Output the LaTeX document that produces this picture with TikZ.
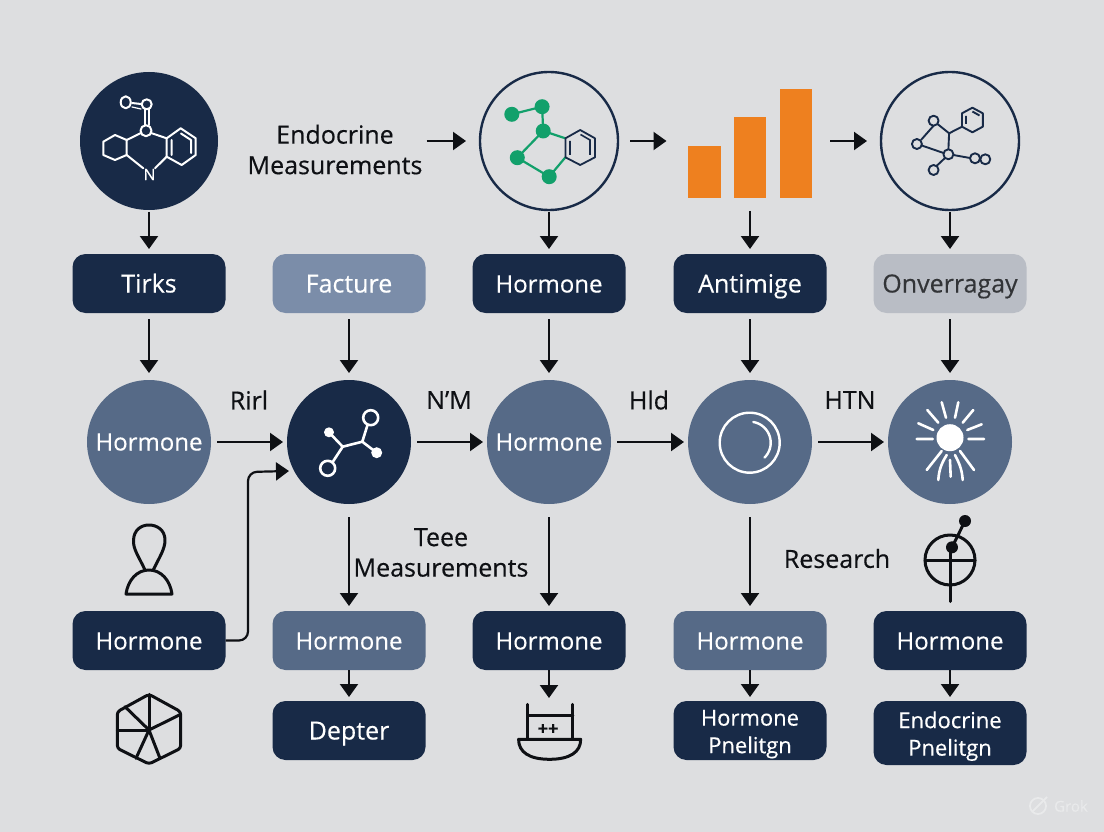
\documentclass[tikz,border=0pt]{standalone}
\usepackage{fontspec}
\setmainfont[FakeBold=0.35]{Open Sans}
\usetikzlibrary{arrows.meta,calc}
\definecolor{bg}{HTML}{DDDEE0}
\definecolor{navy}{HTML}{182A47}
\definecolor{slate}{HTML}{566A87}
\definecolor{mist}{HTML}{7B8DA9}
\definecolor{fog}{HTML}{B9BDC5}
\definecolor{ink}{HTML}{0E1014}
\definecolor{leaf}{HTML}{12A06B}
\definecolor{amber}{HTML}{EE801F}
\definecolor{wm}{HTML}{E9EAEB}
\tikzset{
  pill/.style={rounded corners=13pt,minimum width=153pt,minimum height=59pt,inner sep=0pt,outer sep=0pt,align=center,text=white,font=\fontsize{25}{31}\selectfont},
  oneline/.style={text height=23pt,text depth=5pt},
  horm/.style={font=\fontsize{24}{31}\selectfont},
  navybox/.style={pill,fill=navy},
  slatebox/.style={pill,fill=slate},
  twoline/.style={navybox,font=\fontsize{22}{27.5}\selectfont},
  disc/.style={circle,minimum size=124pt,inner sep=0pt,outer sep=0pt,text=white,font=\fontsize{24}{28}\selectfont,text height=22pt,text depth=5pt},
  bigdisc/.style={circle,minimum size=138pt,inner sep=0pt,outer sep=0pt},
  lab/.style={text=ink,align=center,inner sep=0pt,font=\fontsize{25}{30.5}\selectfont},
  bar/.style={fill=amber,inner sep=0pt,outer sep=0pt},
  arr/.style={draw=ink,line width=2.2pt,-{Triangle[length=13pt,width=18pt]}},
  glyph/.style={draw=ink,line width=3pt,line join=round,line cap=round},
  wline/.style={draw=white,line width=2pt,line join=round,line cap=round},
}
\begin{document}
\begin{tikzpicture}[x=1pt,y=-1pt]
\fill[bg] (0,0) rectangle (1104,832);
\useasboundingbox (0,0) rectangle (1104,832);

% top row
\node[bigdisc,fill=navy] (t1) at (149,141) {};
\node[lab] (endo) at (335,149.5) {Endocrine\\Measurements};
\node[bigdisc,draw=navy,line width=2.4pt] (t2) at (549,141) {};
\node[bar,minimum width=33pt,minimum height=52pt] (bar1) at (704,172) {};
\node[bar,minimum width=32pt,minimum height=81pt] (bar2) at (750,157.5) {};
\node[bar,minimum width=32pt,minimum height=109pt] (bar3) at (796,143.5) {};
\node[bigdisc,draw=navy,line width=2.4pt] (t4) at (950,141) {};

% first box row
\node[navybox,oneline] (a1) at (149,283.5) {Tirks};
\node[pill,oneline,fill=mist] (a2) at (349,283.5) {Facture};
\node[navybox,oneline,horm] (a3) at (549,283.5) {Hormone};
\node[navybox,oneline] (a4) at (750,283.5) {Antimige};
\node[pill,oneline,fill=fog,text=ink!85] (a5) at (950,283.5) {Onverragay};

% discs
\node[disc,fill=slate] (c1) at (149,442) {Hormone};
\node[disc,fill=navy] (c2) at (349,442) {};
\node[disc,fill=slate] (c3) at (549,442) {Hormone};
\node[disc,fill=slate] (c4) at (750,442) {};
\node[disc,fill=slate] (c5) at (950,442) {};

% labels
\node[lab] (l1) at (249,400) {Rirl};
\node[lab] (l2) at (449,400) {N'M};
\node[lab] (l3) at (649,400) {Hld};
\node[lab] (l4) at (850,400) {HTN};
\node[lab] (l5) at (441,552.5) {Teee\\Measurements};
\node[lab] (l6) at (837,558.5) {Research};

% second box row
\node[navybox,oneline,horm] (b1) at (149,640.5) {Hormone};
\node[slatebox,oneline,horm] (b2) at (349,640.5) {Hormone};
\node[navybox,oneline,horm] (b3) at (549,640.5) {Hormone};
\node[slatebox,oneline,horm] (b4) at (750,640.5) {Hormone};
\node[navybox,oneline,horm] (b5) at (950,640.5) {Hormone};

% third row
\node[navybox,oneline] (d2) at (349,730.5) {Depter};
\coordinate (d3) at (549,702);
\node[twoline] (d4) at (750,730.5) {\rule{0pt}{23pt}Hormone\\Pnelitgn};
\node[twoline,minimum height=64pt] (d5) at (950,733) {\rule{0pt}{23pt}Endocrine\\Pnelitgn};

% connectors
\draw[arr,shorten <=4pt,shorten >=14pt] (endo.east |- t2.west) -- (t2.west);
\draw[arr,shorten <=12pt,shorten >=21pt] (t2.east) -- (bar1.west |- t2.east);
\draw[arr,shorten <=18pt,shorten >=14pt] (bar3.east |- t4.west) -- (t4.west);
\draw[arr,shorten <=2pt,shorten >=5pt] (t1.south) -- (a1.north);
\draw[arr,shorten <=2pt,shorten >=5pt] (t2.south) -- (a3.north);
\draw[arr,shorten <=13pt,shorten >=5pt] (bar2.south) -- (a4.north);
\draw[arr,shorten <=2pt,shorten >=5pt] (t4.south) -- (a5.north);
\foreach \i/\j in {a1/c1,a2/c2,a3/c3,a4/c4,a5/c5}
  \draw[arr,shorten <=6pt,shorten >=7pt] (\i.south) -- (\j.north);
\foreach \i/\j in {c1/c2,c2/c3,c3/c4,c4/c5}
  \draw[arr,shorten <=6pt,shorten >=4pt] (\i.east) -- (\j.west);
\foreach \i/\j in {c2/b2,c3/b3,c4/b4}
  \draw[arr,shorten <=13pt,shorten >=5pt] (\i.south) -- (\j.north);
\foreach \i/\j in {b2/d2,b3/d3,b4/d4,b5/d5}
  \draw[arr,shorten >=4pt] (\i.south) -- (\j.north);
\coordinate (hook) at (248,472);
\coordinate (hookend) at (289,471);
\draw[draw=ink,line width=2.2pt,rounded corners=9pt,-{Triangle[length=13pt,width=18pt]}] (b1.east) -- (hook |- b1.east) -- (hook) -- (hookend);

% molecule on t1
\begin{scope}[wline]
\draw (103.3,141.7) -- (115,135) -- (126.7,140) -- (126.7,155) -- (115,160) -- (103.3,155) -- cycle;
\draw (166.7,138.3) -- (180.7,128.3) -- (195.7,138.3) -- (195.7,155) -- (181.7,165) -- (166.7,156.7) -- cycle;
\draw (171.5,140) -- (171.5,155) (181,133.5) -- (191,140) (191,140) -- (191,153);
\draw (126.7,140) -- (141,133) (151,133) -- (166.7,138.3);
\draw (126.7,155) -- (143.3,168.3) (155,168.3) -- (166.7,156.7);
\draw (146,130.7) circle[radius=5.5pt];
\draw (146.7,104.3) circle[radius=5pt];
\draw (125.7,102.3) circle[x radius=5pt,y radius=6pt];
\draw (144.5,109) -- (144.5,125) (149,109) -- (149,125);
\draw[line width=1.2pt] (132,107) -- (141,109);
\draw (132,103) -- (141,104);
\end{scope}
\node[text=white,inner sep=0pt,font=\fontsize{16}{16}\selectfont] (atomN) at (149.5,174.5) {N};

% green molecule on t2
\begin{scope}[draw=leaf,line width=2.2pt]
\draw (511.8,114.3) -- (542.1,106.7) -- (543.2,131) -- (517.3,157.7) -- (549.2,176.7) -- (565.4,157.3);
\draw (543.2,131) -- (565.4,138.3);
\end{scope}
\foreach \p in {(511.8,114.3),(542.1,106.7),(543.2,131),(517.3,157.7),(549.2,176.7)}
  \fill[leaf] \p circle[radius=7.5pt];
\draw[draw=navy,line width=1.8pt,line join=round] (565.4,138.3) -- (580.2,130) -- (595,138.3) -- (595,157.3) -- (580.2,165) -- (565.4,157.3) -- cycle;
\draw[draw=navy,line width=1.6pt] (570,141) -- (570,155) (580.5,134.5) -- (590,140) -- (590,155);

% molecule on t4
\begin{scope}[draw=navy,line width=1.9pt,line join=round]
\draw (933.6,125.7) -- (921,140);
\draw (937.5,124) -- (949.1,133.3) -- (948.4,149.5);
\draw (921.8,145.5) -- (943.5,153);
\draw (953.3,155) -- (970,158);
\draw (945,158) -- (936.5,166);
\draw (949.1,133.3) -- (962,126.7);
\draw (972.4,107.7) -- (982.8,113.3) -- (982.8,126.7) -- (972.4,132.3) -- (962,126.7) -- (962,113.3) -- cycle;
\draw (966,116) -- (966,124) (972.4,111.5) -- (979.5,115.5);
\foreach \p/\r in {(933.6,120.7)/5,(916.9,144)/5,(948.4,154.3)/5,(933.6,170)/5,(975,158.3)/5,(985.3,159.3)/5}
  \draw \p circle[radius=\r pt];
\end{scope}

% icon on c2
\begin{scope}[wline,line width=2.6pt]
\draw (329,432.3) -- (342.7,446.7) -- (362.3,441.7) -- (376.7,452.7);
\draw (342.7,446.7) -- (333,461.5);
\draw (362.3,441.7) -- (367.5,425);
\draw (370.7,417.7) circle[radius=7.5pt];
\draw (327.7,468.3) circle[radius=7.5pt];
\fill[white] (329,432.3) circle[radius=5pt] (376.7,452.7) circle[radius=5.5pt];
\end{scope}

% icon on c4
\draw[wline,line width=2.4pt] (749.7,442.7) circle[radius=30pt];
\draw[wline,line width=2.4pt] plot[domain=-80:45,samples=40] ({749.7+21*cos(\x)},{442.7+21*sin(\x)});

% sun on c5
\fill[white] (950,437.7) circle[radius=13.5pt];
\begin{scope}[wline,line width=2.6pt]
\draw (916.7,439) -- (932.7,439) (918.3,423.3) -- (933.3,430) (927.3,410) -- (938.3,422.7);
\draw (941.7,402.3) -- (946,417.7) (958.3,402.3) -- (955,417.7) (973.3,410) -- (962.7,422.7);
\draw (981.7,424.3) -- (967.3,430) (984,439) -- (968.3,439);
\draw (926.7,470) -- (941.7,451) (974,470) -- (960,451);
\draw (938.3,480) .. controls (939,468) and (943,461) .. (946.7,455);
\draw (950.7,476.7) -- (950,460);
\draw (962.7,480) .. controls (962,468) and (958,461) .. (955,455);
\end{scope}

% person icon
\draw[glyph] (145,570) .. controls (138,555) and (133,549) .. (133.5,540) .. controls (134,530) and (141,525) .. (149,525) .. controls (157,525) and (165,530) .. (165,540) .. controls (165,549) and (160,556) .. (153.3,570);
\draw[glyph] (126,594) .. controls (128,580) and (137,570) .. (149,570) .. controls (161,570) and (170,580) .. (172,594) -- cycle;

% hexagon icon
\draw[glyph,rounded corners=3pt] (149,694.3) -- (180.7,711.7) -- (180.7,748.3) -- (149,764) -- (117.3,748.3) -- (117.3,711.7) -- cycle;
\foreach \p in {(149,694.3),(179.3,715),(160,758.3),(136,758.3),(117.3,730),(125,706.7)}
  \draw[glyph] (149,730) -- \p;

% vessel icon
\draw[glyph] (527.5,704.3) -- (527.5,739.3) (572.9,704.3) -- (572.9,739.3) (527.5,715) -- (572.9,715);
\draw[glyph] (518.6,739.3) -- (580.7,739.3) .. controls (580.7,752) and (570,759.3) .. (549.6,759.3) .. controls (529,759.3) and (518.6,752) .. (518.6,739.3) -- cycle;
\node[text=ink,inner sep=0pt,font=\bfseries\fontsize{18}{18}\selectfont] (plus) at (548,729.5) {++};

% target icon
\draw[glyph] (950,560) circle[radius=25pt];
\draw[glyph] (925,560) -- (975,560);
\draw[glyph] (950,545) -- (950,601.5);
\draw[glyph] (952,547.3) -- (965,521);
\fill[ink] (952,547.3) circle[radius=6pt] (965,521) circle[radius=6pt];

% watermark
\node[text=wm,inner sep=0pt,font=\fontsize{15}{15}\selectfont] (mark) at (1071,806) {Grok};
\draw[draw=wm,line width=1.8pt] (1038,806) circle[radius=8pt];
\draw[draw=wm,line width=1.8pt] (1032,812) -- (1047,797);
\end{tikzpicture}
\end{document}
